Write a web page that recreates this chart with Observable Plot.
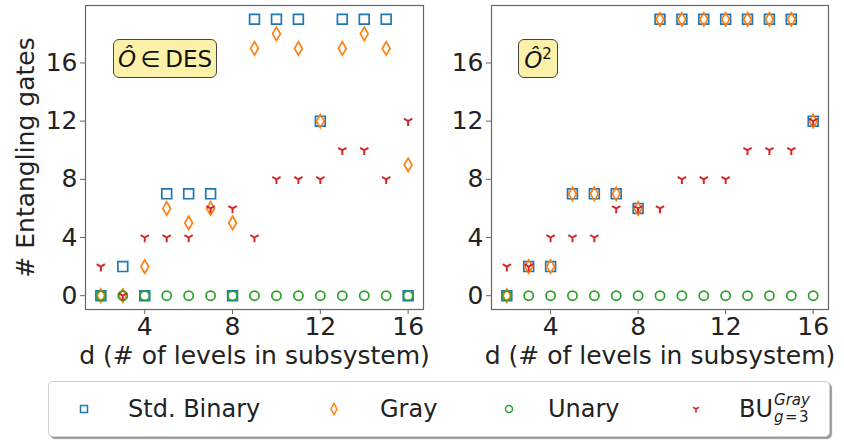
<!DOCTYPE html>
<html><head><meta charset="utf-8">
<script src="https://cdn.jsdelivr.net/npm/d3@7"></script>
<script src="https://cdn.jsdelivr.net/npm/@observablehq/plot@0.6"></script>
<style>
html,body{margin:0;padding:0;background:#fff;}
#root{position:relative;width:844px;height:440px;font-family:"DejaVu Sans",sans-serif;color:#222;overflow:hidden;background:#fff;}
.panel{position:absolute;top:0;}
.note{position:absolute;background:#fcf1a8;border:1.3px solid #444;border-radius:6px;box-sizing:border-box;display:flex;align-items:center;justify-content:center;font-size:23px;color:#111;white-space:nowrap;}
#legend{position:absolute;left:48px;top:381px;width:782px;height:56px;box-sizing:border-box;border:1px solid #d0d0d0;border-radius:5px;box-shadow:2px 2px 1px #9a9a9a;background:#fff;}
.li{position:absolute;top:0;height:100%;display:flex;align-items:center;font-size:24px;color:#222;white-space:nowrap;}
.mk{position:absolute;top:0;height:100%;display:flex;align-items:center;}
.scr{display:inline-flex;flex-direction:column;font-size:15px;line-height:17px;margin-left:1px;}
</style></head><body>
<div id="root">
  <div id="left" class="panel" style="left:0px"></div>
  <div id="right" class="panel" style="left:440px"></div>
  <div class="note" style="left:113px;top:39px;width:104px;height:39px;"><span><i>Ô</i>&#8201;∈&#8201;DES</span></div>
  <div class="note" style="left:518px;top:39px;width:40px;height:39px;"><span><i>Ô</i><sup style="font-size:15px;">2</sup></span></div>
  <div id="legend"></div>
</div>
<script>
// ---- data ----
const levels = [2, 3, 4, 5, 6, 7, 8, 9, 10, 11, 12, 13, 14, 15, 16];
// left panel: O in DES
const desBinary = [0, 2, 0, 7, 7, 7, 0, 19, 19, 19, 12, 19, 19, 19, 0];
const desGray   = [0, 0, 2, 6, 5, 6, 5, 17, 18, 17, 12, 17, 18, 17, 9];
const desUnary  = [0, 0, 0, 0, 0, 0, 0, 0, 0, 0, 0, 0, 0, 0, 0];
const desBU     = [2, 0, 4, 4, 4, 6, 6, 4, 8, 8, 8, 10, 10, 8, 12];
// right panel: O^2
const sqBinary = [0, 2, 2, 7, 7, 7, 6, 19, 19, 19, 19, 19, 19, 19, 12];
const sqGray   = [0, 2, 2, 7, 7, 7, 6, 19, 19, 19, 19, 19, 19, 19, 12];
const sqUnary  = [0, 0, 0, 0, 0, 0, 0, 0, 0, 0, 0, 0, 0, 0, 0];
const sqBU     = [2, 2, 4, 4, 4, 6, 6, 6, 8, 8, 8, 10, 10, 10, 12];
const xTicks = [4, 8, 12, 16];
const yTicks = [0, 4, 8, 12, 16];
const seriesNames = ["Std. Binary", "Gray", "Unary", "BU"];
const seriesColors = ["#1f77b4", "#ff7f0e", "#2ca02c", "#d62728"];
const xLabel = "d (# of levels in subsystem)";
const yLabel = "# Entangling gates";

// ---- symbols (matplotlib-like) ----
const mkSquare = h => ({draw(c){ c.moveTo(-h,-h); c.lineTo(h,-h); c.lineTo(h,h); c.lineTo(-h,h); c.closePath(); }});
const mkDiamond = (w,h) => ({draw(c){ c.moveTo(0,-h); c.lineTo(w,0); c.lineTo(0,h); c.lineTo(-w,0); c.closePath(); }});
const mkCircle = r => ({draw(c){ c.moveTo(r,0); c.arc(0,0,r,0,2*Math.PI); c.closePath(); }});
const mkTri = r => ({draw(c){ c.moveTo(0,0); c.lineTo(0,r); c.moveTo(0,0); c.lineTo(-0.866*r,-0.5*r); c.moveTo(0,0); c.lineTo(0.866*r,-0.5*r); }});
const symbols = [mkSquare(4.9), mkDiamond(3.9,6.7), mkCircle(4.6), mkTri(4.8)];
const widths = [1.7, 1.7, 1.7, 2];

const rows = arr => levels.map((d,i) => ({d, v: arr[i]}));

function panel(series, o) {
  return Plot.plot({
    width: o.width, height: 375,
    marginLeft: o.ml, marginRight: o.mr, marginTop: 5, marginBottom: 66,
    style: {fontFamily: "DejaVu Sans", fontSize: "25px", color: "#222", background: "transparent", overflow: "visible"},
    x: {domain: [1.3, 16.7]},
    y: {domain: [-0.95, 19.95]},
    marks: [
      Plot.frame({stroke: "#666", strokeWidth: 1.2}),
      Plot.axisX({ticks: xTicks, tickSize: 5, tickPadding: 3, stroke: "#666", fontSize: 25,
        label: xLabel, labelAnchor: "center", labelOffset: 54, labelArrow: "none"}),
      Plot.axisY({ticks: yTicks, tickSize: 5, tickPadding: 3, stroke: "#666", fontSize: 25,
        label: o.ylabel, labelAnchor: "center", labelOffset: 69, labelArrow: "none"}),
      ...series.map((arr, k) => Plot.dot(rows(arr), {
        x: "d", y: "v", r: 4, symbol: symbols[k], stroke: seriesColors[k], fill: "none", strokeWidth: widths[k]
      }))
    ]
  });
}

document.getElementById("left").append(panel([desBinary, desGray, desUnary, desBU], {width: 440, ml: 85, mr: 17, ylabel: yLabel}));
document.getElementById("right").append(panel([sqBinary, sqGray, sqUnary, sqBU], {width: 404, ml: 51, mr: 16, ylabel: null}));

// ---- legend ----
const legend = document.getElementById("legend");
const markerX = [35, 285, 460, 647];  // relative to legend box
const textX = [79, 331, 499, 690];
const legendSym = [
  '<rect x="-3.5" y="-3.5" width="7" height="7" fill="none" stroke="#1f77b4" stroke-width="1.5"/>',
  '<path d="M0,-5.5L3,0L0,5.5L-3,0Z" fill="none" stroke="#ff7f0e" stroke-width="1.5"/>',
  '<circle r="3.5" fill="none" stroke="#2ca02c" stroke-width="1.5"/>',
  '<path d="M0,0V3.4M0,0L-2.9,-1.7M0,0L2.9,-1.7" fill="none" stroke="#d62728" stroke-width="1.6"/>'
];
seriesNames.forEach((name, k) => {
  const m = document.createElement("div");
  m.className = "mk";
  m.style.left = (markerX[k] - 7) + "px";
  m.innerHTML = `<svg width="14" height="14" viewBox="-7 -7 14 14">${legendSym[k]}</svg>`;
  legend.append(m);
  const t = document.createElement("div");
  t.className = "li";
  t.style.left = textX[k] + "px";
  if (name === "BU") {
    t.innerHTML = 'BU<span class="scr"><i>Gray</i><span><i>g</i>&#8202;=&#8202;3</span></span>';
  } else t.textContent = name;
  legend.append(t);
});
</script>
</body></html>
